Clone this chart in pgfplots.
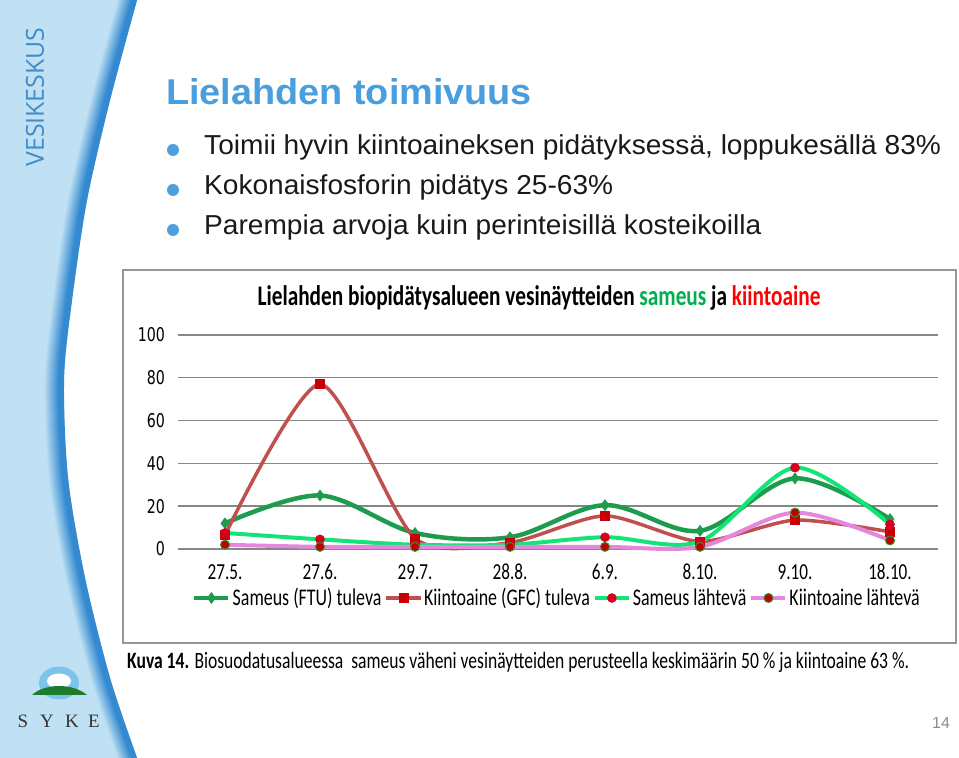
\documentclass[border=0pt]{standalone}
\usepackage{pgfplots}
\pgfplotsset{compat=1.18}
\usepackage{fontspec}
\setmainfont{Liberation Sans}
\newfontfamily\calfont[FakeStretch=0.75]{Carlito}
\newfontfamily\verfont[FakeStretch=0.75]{DejaVu Sans}
\newfontfamily\opfont{Open Sans}
\newfontfamily\serfont{Liberation Serif}
\definecolor{panelblue}{RGB}{192,225,244}
\definecolor{edgeblue}{RGB}{52,138,208}
\definecolor{vesiblue}{RGB}{66,140,200}
\definecolor{titleblue}{RGB}{72,158,222}
\definecolor{bulletblue}{RGB}{80,160,222}
\definecolor{ringblue}{RGB}{125,196,236}
\definecolor{hillgreen}{RGB}{30,125,45}
\definecolor{gridgray}{RGB}{134,134,134}
\definecolor{boxgray}{RGB}{150,150,150}
\definecolor{sOne}{RGB}{30,156,78}
\definecolor{sTwo}{RGB}{192,80,77}
\definecolor{sTwoM}{RGB}{200,0,10}
\definecolor{sThree}{RGB}{20,228,120}
\definecolor{sThreeM}{RGB}{215,0,30}
\definecolor{sFour}{RGB}{230,135,222}
\definecolor{sFourM}{RGB}{192,0,0}
\definecolor{sFourE}{RGB}{60,140,40}
\definecolor{xlgreen}{RGB}{0,176,80}
\definecolor{xlred}{RGB}{255,0,0}
\begin{document}
\begin{tikzpicture}[x=1bp,y=1bp]
\useasboundingbox (0,0) rectangle (959,758);
\fill[white] (0,0) rectangle (959,758);
% left panel
\fill[panelblue] (0,0) -- plot[smooth] coordinates {(137,0) (110,80) (85,180) (68,280) (64,379) (72,458) (87,558) (110,658) (137,758)} -- (0,758) -- cycle;
\foreach \i in {20,19,...,0}{
  \pgfmathsetmacro\m{min(100,max(0,130-\i*7))}
  \draw[line width=1.6bp, color=edgeblue!\m!panelblue, xshift={-0.7bp-\i bp}] plot[smooth] coordinates {(137,0) (110,80) (85,180) (68,280) (64,379) (72,458) (87,558) (110,658) (137,758)};
}
\node[rotate=90, text=vesiblue, font=\opfont\fontsize{25}{25}\selectfont, inner sep=0] at (35,661) {VESIKESKUS};
% SYKE logo
\fill[ringblue] (59,75) ellipse [x radius=20, y radius=16.5];
\fill[white] (59,77) ellipse [x radius=12, y radius=7.5];
\fill[hillgreen] (32,63) .. controls (45,75) and (73,75) .. (87,63) -- cycle;
\foreach \l/\xx in {S/23,Y/47,K/72,E/94}{
  \node[font=\serfont\fontsize{19}{19}\selectfont, text=black!80] at (\xx,37) {\l};
}
% slide title and bullets
\node[anchor=base west, font=\bfseries\fontsize{36}{36}\selectfont, text=titleblue, inner sep=0, xscale=1.055] at (166,653) {Lielahden toimivuus};
\foreach \yb/\yd/\t in {603/608/{Toimii hyvin kiintoaineksen pidätyksessä, loppukesällä 83\%},563/568/{Kokonaisfosforin pidätys 25-63\%},523/528/{Parempia arvoja kuin perinteisillä kosteikoilla}}{
  \fill[bulletblue] (173,\yd) circle[radius=6bp];
  \node[anchor=base west, font=\fontsize{27.5}{27.5}\selectfont, text=black!90, inner sep=0, xscale=1.025] at (204,\yb) {\t};
}
% chart box
\draw[boxgray, line width=1.2bp] (123,115) rectangle (956,488);
\node[font=\calfont\bfseries\fontsize{28.5}{28.5}\selectfont, anchor=center] at (539,460) {Lielahden biopidätysalueen vesinäytteiden \textcolor{xlgreen}{sameus} ja \textcolor{xlred}{kiintoaine}};
\begin{axis}[
  at={(177.5bp,209bp)}, anchor=south west, scale only axis,
  width=760bp, height=214bp,
  xmin=-0.5, xmax=7.5, ymin=0, ymax=100,
  xtick={0,...,7},
  xticklabels={27.5.,27.6.,29.7.,28.8.,6.9.,8.10.,9.10.,18.10.},
  ytick={0,20,40,60,80,100},
  yticklabels={0,20,40,60,80,100},
  ymajorgrids, grid style={gridgray, line width=1.4bp},
  axis line style={draw=none}, major tick length=0pt,
  xticklabel style={font=\calfont\fontsize{23}{23}\selectfont, anchor=base, yshift=-31bp},
  yticklabel style={font=\verfont\fontsize{19}{19}\selectfont, xshift=-9bp},
  clip=false,
  legend style={at={(0.4993,-0.229)}, anchor=center, draw=none, fill=none,
    legend columns=4, font=\calfont\fontsize{24}{24}\selectfont,
    /tikz/every even column/.append style={column sep=1bp}},
  legend image code/.code={\draw[mark repeat=2,mark phase=2] plot coordinates {(0bp,0bp)(17bp,0bp)(34bp,0bp)};},
]
\addplot[sOne, line width=4.5bp, smooth, tension=0.55, mark=diamond*, mark size=5.5bp, mark options={fill=sOne, draw=sOne, line width=0.5bp}]
  coordinates {(0,12) (1,25) (2,7.5) (3,5.5) (4,20.5) (5,8.5) (6,33) (7,14)};
\addlegendentry{Sameus (FTU) tuleva}
\addplot[sTwo, line width=3.5bp, smooth, tension=0.42, mark=square*, mark size=4.5bp, mark options={fill=sTwoM, draw=sTwoM, line width=0.5bp}]
  coordinates {(0,6.5) (1,77) (2,5) (3,3) (4,15.5) (5,3.5) (6,13.5) (7,8)};
\addlegendentry{Kiintoaine (GFC) tuleva}
\addplot[sThree, line width=4bp, smooth, tension=0.5, mark=*, mark size=4.5bp, mark options={fill=sThreeM, draw=sThreeM, line width=0.5bp}]
  coordinates {(0,7.5) (1,4.5) (2,2) (3,2) (4,5.5) (5,3.5) (6,38) (7,11.5)};
\addlegendentry{Sameus lähtevä}
\addplot[sFour, line width=4bp, smooth, tension=0.5, mark=*, mark size=4.5bp, mark options={fill=sFourM, draw=sFourE, line width=1bp}]
  coordinates {(0,2) (1,1) (2,1) (3,1) (4,1) (5,1) (6,17) (7,4)};
\addlegendentry{Kiintoaine lähtevä}
\end{axis}
\node[anchor=west, font=\calfont\fontsize{23.5}{23.5}\selectfont, inner sep=0] at (127,96) {\textbf{Kuva 14.} Biosuodatusalueessa\ \ sameus väheni vesinäytteiden perusteella keskimäärin 50\,\% ja kiintoaine 63\,\%.};
\node[font=\fontsize{16}{16}\selectfont, text=black!45] at (941,35) {14};
\end{tikzpicture}
\end{document}
